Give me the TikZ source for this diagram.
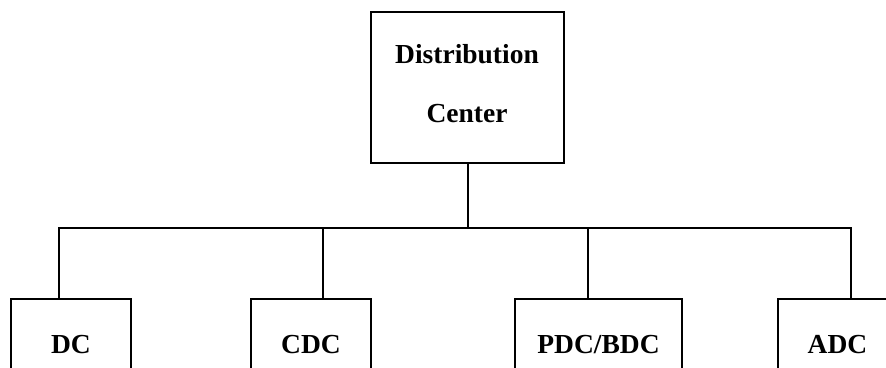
\documentclass[tikz,border=0pt]{standalone}
\usepackage{fontspec}
\setmainfont{Liberation Serif}
\begin{document}
\begin{tikzpicture}[x=1pt,y=-1pt,
  box/.style={draw, line width=2pt, rectangle, inner sep=0pt, fill=white},
  link/.style={line width=1.8pt},
  lbl/.style={font=\fontsize{27.5}{32}\selectfont\bfseries, anchor=base, inner sep=0pt}]
\clip (0,0) rectangle (886,367);
\fill[white] (0,0) rectangle (886,367);

% root
\node[box, minimum width=193pt, minimum height=151pt] (dist) at (467.5,87.5) {};
\node[lbl] (t1) at (467,63) {Distribution};
\node[lbl] (t2) at (467,122) {Center};

% children (lower part runs off the page)
\node[box, minimum width=120pt, minimum height=91pt] (dc)  at (71,344.5) {};
\node[box, minimum width=120pt, minimum height=91pt] (cdc) at (311,344.5) {};
\node[box, minimum width=167pt, minimum height=91pt] (pdc) at (598.5,344.5) {};
\node[box, minimum width=119pt, minimum height=91pt] (adc) at (837.5,344.5) {};
\node[lbl] (l1) at (71,353) {DC};
\node[lbl] (l2) at (311,353) {CDC};
\node[lbl] (l3) at (598.5,353) {PDC/BDC};
\node[lbl] (l4) at (837.5,353) {ADC};

% bus
\coordinate (hub) at (468,228);
\coordinate (j1) at (59,228);
\coordinate (j2) at (323,228);
\coordinate (j3) at (588,228);
\coordinate (j4) at (851,228);
\draw[link] (hub |- dist.south) -- (hub);
\draw[link] (j1 |- dc.north) -- (j1) -- (j4) -- (j4 |- adc.north);
\draw[link] (j2) -- (j2 |- cdc.north);
\draw[link] (j3) -- (j3 |- pdc.north);
\end{tikzpicture}
\end{document}
